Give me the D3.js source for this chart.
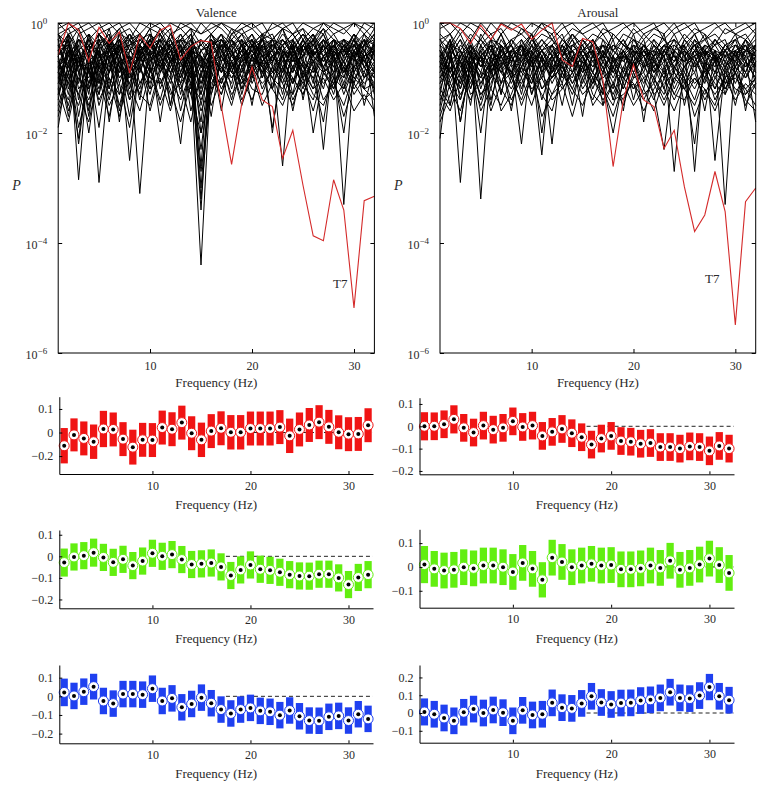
<!DOCTYPE html>
<html>
<head>
<meta charset="utf-8">
<script src="https://cdn.jsdelivr.net/npm/d3@7"></script>
<style>
  body { margin: 0; background: #fff; }
  svg { display: block; }
  text { font-family: 'Liberation Serif', 'Times New Roman', serif; fill: #2a2a2a; }
</style>
</head>
<body>
<svg id="chart" width="764" height="790"></svg>
<script>
// frequency bins (Hz)
var freqs = [1,2,3,4,5,6,7,8,9,10,11,12,13,14,15,16,17,18,19,20,21,22,23,24,25,26,27,28,29,30,31,32];

// log10(P) per channel, valence
var valenceLogP = [
  [-0.9,-0.3,-1.1,-0.2,-0.6,-0.1,-0.8,-0.4,-0.2,-0.7,-0.3,-0.1,-0.9,-0.5,-1.2,-0.4,-0.2,-0.6,-0.3,-0.8,-0.2,-0.5,-0.1,-0.7,-0.4,-0.2,-0.9,-0.3,-0.6,-0.2,-0.5,-0.8],
  [-1.9,-0.7,-0.4,-1.3,-0.2,-0.5,-0.3,-1.0,-0.6,-0.2,-0.4,-0.8,-0.3,-0.1,-1.5,-0.6,-0.9,-0.3,-0.5,-0.2,-0.7,-0.4,-1.0,-0.3,-0.1,-0.6,-0.3,-0.8,-0.4,-0.3,-0.7,-0.4],
  [-0.5,-0.2,-2.85,-0.6,-0.3,-0.9,-0.2,-0.5,-0.4,-0.1,-0.9,-0.3,-0.6,-0.2,-0.8,-0.3,-0.5,-0.1,-0.4,-0.9,-0.3,-0.2,-0.6,-1.1,-0.4,-0.2,-0.5,-0.3,-1.0,-0.4,-0.2,-0.6],
  [-1.2,-0.4,-0.7,-0.3,-2.9,-0.8,-0.4,-0.2,-0.6,-0.3,-0.2,-0.7,-1.1,-0.4,-0.3,-0.5,-0.2,-0.8,-0.6,-0.4,-0.2,-1.2,-0.5,-0.3,-0.7,-0.9,-0.4,-0.2,-0.5,-0.6,-0.3,-1.7],
  [-0.3,-0.1,-0.5,-0.9,-0.4,-0.2,-1.3,-0.6,-3.1,-0.7,-0.3,-0.4,-0.2,-0.6,-1.0,-0.2,-0.4,-0.3,-0.8,-0.5,-0.9,-0.3,-0.4,-0.2,-0.5,-0.3,-0.1,-0.6,-0.3,-0.9,-0.4,-0.2],
  [-0.7,-1.1,-0.3,-0.5,-0.2,-0.6,-0.4,-0.9,-0.3,-0.5,-0.7,-0.2,-0.4,-0.9,-4.4,-0.8,-0.3,-0.5,-0.2,-0.4,-0.6,-0.3,-0.8,-0.5,-0.2,-0.4,-0.7,-0.3,-0.5,-0.2,-0.8,-0.5],
  [-0.4,-0.9,-0.2,-0.6,-1.0,-0.3,-0.5,-0.2,-0.4,-0.8,-0.2,-0.5,-0.3,-0.6,-3.4,-0.5,-1.1,-0.4,-0.2,-0.6,-0.3,-0.5,-0.2,-0.4,-0.9,-0.6,-0.3,-0.5,-3.3,-0.7,-0.3,-0.4],
  [-1.0,-0.5,-0.8,-0.2,-0.4,-0.7,-0.2,-0.3,-0.6,-0.2,-0.5,-0.3,-0.7,-0.4,-3.0,-0.6,-0.4,-0.9,-0.5,-0.3,-0.8,-0.6,-0.4,-0.7,-0.3,-0.5,-0.2,-0.7,-0.4,-0.6,-0.9,-0.3],
  [-0.6,-0.3,-1.4,-0.5,-0.8,-0.4,-0.9,-0.3,-0.2,-0.6,-0.4,-0.9,-2.2,-0.5,-2.6,-0.4,-0.3,-0.6,-0.9,-0.4,-0.5,-0.7,-2.6,-0.4,-0.6,-0.3,-0.8,-0.5,-0.3,-0.4,-0.6,-1.2],
  [-0.2,-0.6,-0.3,-0.8,-0.5,-1.2,-0.3,-0.7,-0.5,-0.3,-0.6,-0.2,-0.5,-0.3,-0.6,-1.7,-0.5,-0.3,-0.6,-0.8,-0.4,-2.0,-0.5,-0.6,-0.3,-0.8,-0.4,-0.6,-0.9,-0.5,-0.3,-0.7],
  [-0.8,-0.2,-0.6,-1.6,-0.3,-0.4,-1.8,-0.5,-0.7,-0.4,-0.3,-0.6,-0.4,-0.8,-0.5,-0.3,-0.7,-0.2,-0.4,-0.3,-0.6,-0.5,-0.9,-0.3,-1.4,-0.5,-2.3,-0.4,-0.7,-0.3,-0.5,-0.9],
  [-0.4,-0.8,-0.5,-0.3,-0.7,-0.3,-0.6,-1.4,-0.4,-0.9,-0.5,-0.3,-0.8,-0.6,-0.4,-0.2,-0.6,-0.4,-1.3,-0.6,-0.3,-0.8,-0.6,-0.9,-0.5,-0.4,-0.6,-1.2,-0.5,-0.8,-0.4,-0.3],
  [-1.5,-0.9,-2.1,-0.7,-1.2,-0.5,-0.3,-0.6,-0.9,-0.4,-0.2,-0.5,-0.9,-0.3,-0.7,-0.5,-0.2,-0.4,-0.7,-0.3,-1.0,-0.4,-0.3,-0.5,-0.8,-0.3,-0.5,-0.3,-0.4,-1.1,-0.6,-0.4],
  [-0.6,-1.3,-0.4,-0.2,-0.9,-0.6,-0.4,-0.7,-0.3,-0.2,-1.2,-0.7,-0.5,-1.0,-0.3,-0.7,-0.8,-1.1,-0.3,-0.5,-0.3,-0.6,-0.4,-0.2,-0.5,-1.1,-0.3,-0.5,-0.7,-0.3,-1.0,-0.5],
  [-0.3,-0.5,-0.9,-0.5,-0.2,-0.4,-0.6,-0.3,-0.8,-0.5,-0.3,-1.5,-0.4,-0.2,-0.5,-0.4,-0.6,-0.8,-0.4,-0.2,-0.5,-0.3,-0.7,-0.4,-0.2,-0.6,-0.4,-0.9,-0.3,-0.5,-0.3,-0.6],
  [-1.1,-0.6,-0.3,-0.4,-0.6,-0.9,-0.5,-0.4,-1.1,-0.7,-0.5,-0.4,-0.3,-0.7,-1.8,-0.3,-0.5,-0.7,-0.5,-1.0,-0.4,-0.3,-0.5,-0.8,-0.6,-0.2,-0.6,-0.4,-0.6,-0.4,-0.7,-1.0],
  [-0.5,-0.4,-1.7,-0.7,-0.5,-0.3,-1.0,-0.8,-0.4,-0.6,-0.8,-0.5,-0.6,-0.4,-0.9,-0.6,-0.4,-0.5,-1.0,-0.4,-0.7,-0.5,-0.3,-0.6,-0.4,-0.7,-0.5,-0.3,-0.9,-0.6,-0.4,-0.5],
  [-0.9,-0.2,-0.5,-1.1,-0.7,-1.4,-0.6,-0.2,-0.5,-1.2,-0.4,-0.6,-0.2,-0.5,-0.6,-0.9,-0.3,-0.6,-0.4,-0.7,-0.5,-0.4,-0.6,-0.5,-1.0,-0.4,-0.2,-0.6,-0.5,-0.7,-0.2,-0.4],
  [-0.2,-0.7,-0.4,-0.6,-1.3,-0.4,-0.2,-0.9,-0.6,-0.4,-0.6,-0.9,-0.5,-0.3,-1.1,-0.5,-0.9,-0.3,-0.6,-0.5,-0.8,-0.6,-0.5,-1.3,-0.4,-0.6,-0.8,-0.4,-0.3,-0.6,-0.5,-0.2],
  [-1.3,-0.5,-0.6,-0.4,-0.3,-0.7,-0.9,-0.5,-0.7,-0.3,-0.8,-0.4,-1.0,-0.5,-0.4,-0.6,-0.3,-0.5,-0.8,-0.3,-0.6,-0.9,-0.4,-0.3,-0.6,-0.5,-0.3,-0.7,-0.5,-0.4,-0.8,-0.6],
  [-0.7,-1.0,-0.8,-0.3,-0.6,-0.5,-0.3,-1.2,-0.4,-0.6,-0.3,-0.7,-0.4,-0.6,-0.8,-0.4,-0.7,-1.4,-0.6,-0.4,-0.9,-0.7,-0.3,-0.5,-0.8,-1.0,-0.6,-0.4,-0.6,-0.3,-0.6,-0.4],
  [-0.4,-0.3,-1.2,-0.9,-0.4,-0.2,-0.7,-0.6,-1.4,-0.5,-0.9,-0.5,-0.6,-1.2,-0.5,-0.4,-0.3,-0.7,-0.5,-0.6,-0.4,-0.6,-0.8,-0.6,-0.3,-0.7,-0.4,-0.6,-1.2,-0.5,-0.7,-0.9],
  [-0.8,-0.6,-0.7,-1.0,-0.5,-0.8,-0.4,-0.3,-0.5,-0.4,-0.7,-1.0,-0.3,-0.4,-2.0,-0.7,-0.6,-0.4,-0.3,-0.9,-0.7,-0.5,-0.6,-0.4,-0.5,-0.3,-0.9,-0.7,-0.4,-0.6,-0.4,-0.7],
  [-0.5,-0.8,-0.3,-0.5,-0.8,-0.6,-0.5,-0.4,-0.3,-0.5,-0.6,-0.4,-0.7,-0.5,-0.6,-1.2,-0.5,-0.8,-0.6,-0.4,-0.3,-0.4,-0.5,-0.7,-0.6,-0.4,-0.6,-0.5,-0.8,-0.4,-0.6,-0.5],
  [-1.0,-1.4,-0.6,-0.9,-1.1,-0.7,-1.5,-0.8,-0.6,-1.0,-0.7,-0.5,-1.1,-0.8,-1.3,-0.6,-0.8,-1.0,-0.7,-0.6,-1.2,-0.8,-1.0,-1.3,-0.9,-1.2,-1.0,-1.4,-1.1,-1.6,-1.3,-1.6],
  [-0.6,-1.6,-1.0,-1.4,-0.8,-1.1,-0.7,-1.0,-0.8,-1.3,-0.6,-0.9,-0.7,-1.1,-0.8,-1.0,-1.3,-0.7,-1.1,-0.8,-0.6,-1.0,-1.2,-0.8,-1.1,-0.7,-0.9,-1.1,-0.8,-1.0,-1.2,-1.1],
  [-0.1,0,-0.2,-0.1,0,-0.3,-0.1,0,-0.2,0,-0.1,-0.3,0,-0.1,-0.2,0,-0.1,-0.3,-0.1,0,-0.2,-0.1,0,-0.2,-0.1,-0.3,0,-0.1,-0.2,0,-0.1,-0.3],
  [-0.2,-0.1,0,-0.3,-0.1,0,-0.2,-0.1,-0.4,-0.1,0,-0.2,-0.1,-0.3,0,-0.2,0,-0.1,-0.2,-0.1,0,-0.3,-0.1,0,-0.3,-0.1,-0.2,0,-0.1,-0.3,0,-0.1],
  [-1.4,-0.5,-2.2,-0.8,-1.9,-0.6,-1.6,-0.7,-1.2,-0.5,-1.8,-0.6,-1.0,-0.4,-1.3,-0.6,-1.6,-0.5,-0.9,-0.4,-1.0,-0.6,-1.3,-0.5,-0.8,-1.2,-0.6,-0.9,-2.0,-0.6,-1.0,-0.7],
  [-0.8,-1.7,-0.6,-1.7,-0.5,-1.2,-0.4,-2.5,-0.6,-1.1,-0.5,-1.5,-0.7,-1.3,-0.6,-1.0,-0.4,-1.2,-0.6,-1.5,-0.5,-0.9,-0.6,-1.6,-0.7,-1.0,-1.8,-0.6,-1.1,-0.5,-1.5,-0.8],
  [-1.6,-0.9,-1.3,-0.6,-1.5,-0.9,-0.5,-1.3,-0.7,-1.6,-0.9,-0.6,-1.6,-0.8,-1.1,-0.7,-1.2,-0.8,-1.5,-0.9,-0.7,-1.9,-0.8,-1.1,-0.6,-2.0,-0.9,-0.7,-1.3,-0.8,-0.6,-1.3],
  [-0.3,-1.2,-0.5,-1.1,-0.4,-1.8,-0.6,-0.9,-0.4,-0.8,-1.4,-0.7,-0.4,-1.6,-0.9,-0.5,-0.9,-0.6,-0.4,-1.1,-0.7,-0.5,-1.1,-0.6,-1.2,-0.5,-0.8,-1.3,-0.6,-0.9,-0.6,-0.5],
  [-1.1,-0.4,-0.8,-2.0,-0.7,-0.4,-1.1,-0.6,-0.9,-0.3,-0.6,-1.1,-0.5,-0.9,-2.3,-0.8,-0.6,-1.0,-0.7,-0.5,-0.8,-1.2,-0.5,-0.8,-0.4,-0.7,-1.2,-0.5,-0.8,-1.1,-0.5,-0.9],
  [-0.5,-0.2,-0.9,-0.4,-1.1,-0.3,-0.7,-1.7,-0.5,-0.3,-0.8,-0.4,-1.3,-0.5,-0.7,-0.3,-0.5,-0.9,-0.4,-0.7,-0.3,-0.7,-0.4,-0.9,-0.3,-0.6,-0.4,-1.0,-0.4,-0.6,-1.2,-0.4],
  [-0.2,-0.4,-0.1,-0.5,-0.2,-0.4,-0.1,-0.5,-0.2,-0.4,-0.1,-0.5,-0.3,-0.1,-0.4,-0.2,-0.5,-0.2,-0.1,-0.4,-0.2,-0.3,-0.1,-0.5,-0.2,-0.4,-0.1,-0.3,-0.5,-0.2,-0.4,-0.1],
  [0,-0.2,-0.1,0,-0.2,-0.1,0,-0.3,0,-0.1,-0.2,0,-0.1,0,-0.2,-0.1,0,-0.2,0,-0.1,-0.3,0,-0.1,-0.2,0,-0.1,0,-0.2,-0.1,0,-0.2,0],
  [-1.3,-0.8,-1.0,-1.2,-0.6,-1.0,-1.3,-0.9,-0.6,-1.0,-1.1,-0.8,-1.2,-0.7,-3.2,-0.9,-1.1,-0.7,-1.0,-0.8,-1.1,-0.9,-0.7,-1.0,-1.3,-0.8,-1.1,-0.9,-0.7,-1.2,-0.9,-1.2],
  [-0.9,-1.5,-0.7,-0.9,-1.3,-0.5,-0.8,-1.1,-0.5,-0.7,-0.5,-0.8,-0.5,-1.1,-2.7,-1.3,-0.7,-0.5,-1.2,-0.6,-0.9,-0.6,-0.9,-0.4,-1.0,-0.7,-0.5,-0.8,-1.0,-0.5,-0.8,-1.0],
  [-1.2,-1.8,-0.9,-1.5,-1.0,-1.7,-0.8,-1.4,-1.1,-0.8,-1.5,-1.0,-1.4,-0.9,-1.6,-1.1,-0.8,-1.3,-1.0,-1.4,-0.9,-1.2,-1.5,-1.0,-1.3,-0.8,-1.4,-1.1,-1.5,-0.9,-1.2,-1.4],
  [-0.7,-1.1,-1.5,-0.8,-1.4,-1.0,-1.7,-0.9,-1.3,-1.5,-0.8,-1.2,-1.8,-1.1,-1.4,-0.9,-1.3,-0.7,-1.2,-0.9,-1.5,-1.1,-0.8,-1.4,-1.0,-1.6,-0.9,-1.2,-0.8,-1.3,-1.0,-0.8],
  [-1.7,-1.0,-1.3,-1.8,-0.9,-1.5,-1.1,-1.9,-0.8,-1.2,-1.0,-1.6,-0.9,-1.3,-2.0,-1.2,-1.0,-1.5,-0.8,-1.2,-1.3,-0.8,-1.1,-1.5,-0.9,-1.3,-1.5,-1.0,-1.7,-1.1,-1.4,-1.2],
  [-0.4,-0.9,-0.6,-1.2,-0.7,-0.5,-1.0,-0.7,-1.3,-0.6,-1.1,-0.7,-0.5,-1.0,-0.7,-1.3,-0.6,-0.9,-1.1,-0.6,-0.8,-1.0,-0.6,-1.1,-0.7,-0.9,-0.6,-1.1,-0.7,-1.0,-0.8,-1.1],
  [-0.6,-0.3,-0.8,-0.4,-0.6,-0.9,-0.3,-0.7,-0.5,-0.9,-0.4,-0.7,-0.4,-0.8,-0.5,-0.8,-0.4,-0.7,-0.5,-0.9,-0.4,-0.7,-0.3,-0.6,-0.9,-0.5,-0.7,-0.4,-0.9,-0.5,-0.7,-0.4],
  [-1.0,-0.7,-1.9,-1.1,-0.8,-1.3,-0.7,-1.1,-1.6,-0.9,-0.7,-1.3,-1.1,-1.8,-0.9,-1.5,-1.0,-0.8,-1.4,-1.0,-0.7,-1.0,-1.4,-0.8,-1.1,-1.4,-0.8,-1.0,-1.2,-0.8,-1.1,-0.9]
];
var valenceT7 = [-0.58,0,-0.13,-0.7,-0.08,-0.37,-0.16,-0.91,-0.22,-0.46,-0.13,-0.04,-0.67,-0.43,-0.32,-0.35,-1.52,-2.57,-1.46,-0.8,-1.4,-1.52,-2.46,-1.95,-2.95,-3.87,-3.96,-2.85,-3.4,-5.18,-3.23,-3.15];

// log10(P) per channel, arousal
var arousalLogP = [
  [-2.1,-0.6,-0.3,-0.9,-0.2,-0.5,-0.8,-0.3,-0.6,-0.2,-0.9,-0.4,-0.2,-0.7,-0.3,-0.5,-0.9,-0.4,-0.6,-0.2,-0.8,-0.3,-0.5,-0.2,-0.6,-0.4,-0.8,-0.3,-0.5,-0.2,-0.7,-0.4],
  [-0.8,-0.3,-2.9,-0.5,-0.7,-0.3,-0.4,-1.0,-0.3,-0.6,-0.4,-0.2,-0.6,-0.3,-0.8,-0.4,-0.2,-0.5,-0.3,-0.7,-0.4,-0.6,-0.2,-0.9,-0.3,-0.5,-0.2,-0.7,-0.4,-0.6,-0.3,-0.8],
  [-0.5,-1.1,-0.6,-0.3,-3.2,-0.7,-0.5,-0.4,-0.8,-0.3,-0.6,-0.9,-0.4,-0.2,-0.5,-0.8,-0.4,-0.6,-0.9,-0.3,-0.5,-0.7,-0.4,-0.3,-0.8,-0.5,-0.3,-0.6,-0.8,-0.4,-0.5,-0.3],
  [-1.3,-0.4,-0.8,-0.5,-0.3,-0.6,-0.2,-0.7,-2.2,-0.5,-0.3,-0.6,-0.3,-0.5,-0.9,-0.3,-0.6,-0.2,-0.4,-0.6,-0.3,-0.9,-0.5,-0.7,-0.4,-0.2,-0.6,-0.4,-0.3,-0.8,-0.5,-0.6],
  [-0.3,-0.7,-0.5,-1.2,-0.6,-0.4,-0.9,-0.5,-0.3,-0.7,-2.4,-0.5,-0.8,-0.4,-0.3,-0.6,-0.5,-0.8,-0.4,-0.5,-0.9,-0.4,-0.6,-0.3,-0.5,-0.7,-0.4,-0.5,-3.3,-0.6,-0.3,-0.5],
  [-1.0,-0.5,-1.4,-0.6,-0.9,-0.3,-0.6,-0.4,-0.7,-0.4,-0.6,-2.2,-0.5,-0.8,-0.4,-0.9,-0.3,-0.7,-0.5,-0.3,-0.6,-0.5,-0.3,-0.6,-0.9,-0.3,-0.5,-0.8,-0.4,-0.6,-0.4,-0.9],
  [-0.6,-0.9,-0.4,-0.6,-1.4,-0.8,-0.3,-0.6,-0.4,-0.9,-0.5,-0.7,-0.3,-0.5,-0.7,-0.4,-1.1,-2.0,-1.0,-0.6,-0.4,-0.8,-0.6,-2.7,-0.6,-0.4,-0.7,-0.5,-0.6,-0.3,-0.8,-0.5],
  [-0.4,-0.2,-0.7,-1.5,-0.4,-0.9,-0.5,-0.3,-0.5,-0.2,-0.7,-0.4,-0.9,-0.6,-0.5,-0.3,-0.7,-0.9,-0.6,-0.8,-0.5,-0.3,-0.7,-0.5,-0.4,-2.7,-0.5,-0.3,-0.6,-0.5,-0.9,-0.4],
  [-1.6,-0.8,-1.1,-0.4,-0.6,-1.2,-0.4,-0.8,-0.6,-0.3,-0.5,-0.8,-0.6,-0.3,-0.6,-0.5,-1.3,-0.6,-0.3,-0.6,-0.8,-0.6,-0.4,-0.8,-0.6,-0.9,-0.4,-2.5,-0.8,-0.5,-0.6,-1.8],
  [-0.7,-1.5,-0.5,-0.8,-0.5,-0.3,-1.1,-0.6,-1.3,-0.5,-0.8,-0.5,-0.4,-0.9,-0.3,-0.6,-0.4,-0.5,-0.7,-0.4,-0.6,-1.0,-0.5,-0.4,-0.6,-0.4,-0.9,-0.6,-0.5,-0.8,-0.3,-0.6],
  [-0.9,-0.4,-0.9,-0.3,-0.8,-0.6,-0.4,-0.9,-0.5,-0.8,-0.4,-0.6,-1.1,-0.4,-0.6,-1.1,-0.5,-1.4,-0.8,-0.5,-0.7,-0.4,-0.8,-0.6,-1.0,-0.5,-0.6,-0.4,-0.7,-0.4,-0.6,-0.8],
  [-0.4,-0.6,-1.8,-0.7,-1.0,-0.5,-0.7,-0.4,-0.9,-0.6,-0.3,-0.5,-0.7,-0.5,-0.4,-0.7,-0.6,-0.4,-0.5,-0.9,-0.4,-0.6,-0.5,-0.7,-0.3,-0.6,-0.5,-0.7,-0.5,-0.9,-0.6,-0.4],
  [-1.2,-0.7,-0.5,-1.0,-0.6,-1.5,-0.5,-0.7,-0.4,-0.6,-1.0,-0.6,-0.5,-0.7,-0.8,-0.5,-0.8,-0.6,-1.1,-0.4,-0.8,-0.7,-1.0,-0.5,-0.7,-0.6,-0.4,-0.6,-0.9,-0.5,-1.0,-0.6],
  [-0.6,-1.2,-0.8,-0.5,-0.8,-0.4,-1.3,-0.5,-0.7,-1.1,-0.6,-0.4,-0.8,-1.0,-0.5,-0.8,-0.6,-1.0,-0.6,-0.7,-1.2,-0.5,-0.6,-1.1,-0.5,-0.8,-0.6,-1.0,-0.6,-0.7,-0.5,-1.1],
  [-0.8,-0.5,-1.2,-0.7,-0.5,-0.8,-0.6,-1.0,-0.6,-0.8,-0.5,-0.9,-0.6,-0.5,-1.0,-0.6,-0.9,-0.5,-0.7,-0.5,-0.6,-0.9,-0.7,-0.6,-0.8,-0.6,-1.1,-0.5,-0.8,-0.6,-0.8,-0.6],
  [-1.4,-1.0,-0.7,-1.3,-1.1,-0.7,-0.9,-1.2,-0.8,-1.0,-0.7,-1.0,-0.8,-1.2,-0.7,-1.3,-1.5,-1.1,-1.4,-1.0,-0.9,-1.3,-1.1,-0.9,-1.2,-1.0,-1.3,-0.9,-1.1,-1.0,-1.2,-1.5],
  [-0.3,-0.2,-0.5,-0.2,-0.4,-0.2,-0.5,-0.3,-0.2,-0.4,-0.2,-0.3,-0.5,-0.2,-0.4,-0.2,-0.3,-0.5,-0.2,-0.3,-0.4,-0.2,-0.3,-0.5,-0.2,-0.4,-0.3,-0.2,-0.4,-0.3,-0.5,-0.2],
  [-0.1,0,-0.2,0,-0.1,-0.3,0,-0.1,-0.2,0,-0.1,-0.2,0,-0.3,-0.1,0,-0.2,-0.1,0,-0.2,-0.1,0,-0.3,-0.1,0,-0.2,-0.1,0,-0.2,-0.1,0,-0.2],
  [-0.2,-0.4,-0.1,-0.3,0,-0.2,-0.1,-0.4,-0.1,-0.3,0,-0.1,-0.3,-0.1,-0.2,-0.4,-0.1,-0.2,-0.4,-0.1,-0.3,-0.1,-0.2,0,-0.3,-0.1,-0.2,-0.4,-0.1,-0.2,-0.3,-0.1],
  [-0.9,-0.6,-0.3,-0.6,-0.9,-1.0,-0.4,-0.6,-1.0,-0.4,-0.7,-1.0,-0.6,-0.4,-0.6,-1.0,-0.7,-0.3,-0.9,-0.6,-0.4,-0.7,-0.9,-0.4,-0.6,-0.3,-0.7,-0.9,-0.5,-0.4,-0.7,-1.0],
  [-0.5,-0.9,-0.6,-0.4,-0.7,-0.5,-0.8,-0.5,-0.6,-0.5,-0.9,-0.7,-0.4,-0.6,-0.9,-0.7,-1.0,-0.8,-0.5,-1.0,-0.5,-0.8,-0.4,-0.6,-0.7,-0.5,-0.8,-0.6,-1.0,-0.5,-0.4,-0.7],
  [-1.1,-0.5,-0.7,-0.9,-0.6,-0.4,-0.5,-0.7,-0.4,-0.7,-0.5,-0.4,-0.6,-0.8,-0.5,-0.4,-0.6,-0.7,-0.5,-0.8,-0.6,-0.5,-0.9,-0.7,-0.5,-0.7,-0.5,-0.6,-0.7,-0.9,-0.5,-0.6],
  [-0.7,-0.3,-1.0,-0.4,-1.2,-0.6,-0.9,-0.7,-0.4,-1.3,-0.8,-0.6,-1.0,-0.6,-1.2,-0.9,-1.2,-1.5,-0.9,-1.1,-1.4,-1.0,-1.3,-0.8,-1.0,-1.4,-0.8,-1.1,-1.3,-0.9,-1.2,-1.0],
  [-1.8,-1.3,-0.9,-0.6,-0.7,-0.9,-0.6,-1.1,-0.7,-0.5,-1.2,-0.9,-0.7,-0.9,-0.6,-0.9,-0.5,-0.8,-1.2,-0.7,-0.5,-0.9,-0.6,-1.2,-0.8,-0.5,-0.9,-0.7,-0.6,-1.1,-0.7,-0.9],
  [-1.5,-0.6,-1.8,-0.7,-2.0,-0.6,-1.3,-0.5,-1.2,-0.6,-2.0,-0.7,-1.5,-0.6,-1.7,-0.5,-1.5,-0.6,-1.6,-0.5,-1.8,-0.6,-1.2,-0.5,-1.5,-0.7,-1.6,-0.6,-1.3,-0.5,-1.6,-0.7],
  [-1.2,-1.5,-0.6,-1.2,-0.5,-1.4,-0.7,-1.6,-0.6,-1.3,-0.6,-1.1,-0.7,-1.5,-0.6,-1.2,-0.7,-1.1,-0.6,-1.4,-0.7,-1.3,-2.3,-0.8,-1.0,-2.2,-0.7,-1.2,-0.8,-1.5,-0.7,-1.0],
  [-0.7,-0.9,-1.2,-0.5,-1.1,-0.8,-1.6,-1.3,-0.8,-0.6,-1.4,-0.8,-1.2,-0.9,-0.6,-1.0,-1.3,-0.8,-1.2,-0.7,-1.0,-1.4,-0.8,-1.3,-0.9,-1.2,-0.8,-1.4,-1.0,-0.8,-1.3,-1.1],
  [-0.4,-1.0,-0.7,-1.1,-0.6,-0.9,-0.5,-1.0,-0.8,-0.4,-0.9,-0.6,-0.9,-0.5,-1.1,-0.6,-0.8,-1.2,-0.5,-0.9,-0.6,-1.1,-0.5,-0.9,-1.2,-0.6,-1.0,-0.5,-1.1,-0.7,-0.9,-0.5],
  [0,-0.2,0,-0.1,-0.3,0,-0.2,0,-0.1,-0.2,0,-0.3,-0.1,0,-0.2,-0.1,0,-0.3,-0.1,0,-0.2,-0.1,0,-0.2,-0.1,0,-0.3,-0.1,0,-0.2,-0.1,0],
  [-0.3,-0.5,-0.2,-0.6,-0.3,-0.5,-0.2,-0.6,-0.4,-0.2,-0.5,-0.3,-0.6,-0.2,-0.5,-0.3,-0.6,-0.2,-0.4,-0.5,-0.2,-0.4,-0.6,-0.3,-0.5,-0.2,-0.6,-0.3,-0.5,-0.3,-0.2,-0.5],
  [-1.0,-0.7,-1.0,-0.8,-1.3,-1.1,-0.6,-0.9,-1.1,-0.7,-1.2,-1.0,-0.6,-1.1,-0.8,-1.1,-0.6,-0.9,-1.0,-1.2,-0.8,-1.0,-1.4,-1.0,-0.8,-1.1,-0.9,-1.2,-0.7,-1.3,-0.9,-1.2],
  [-0.6,-0.4,-0.5,-0.8,-0.4,-0.7,-0.6,-0.5,-0.4,-0.7,-0.5,-0.7,-0.5,-0.4,-0.6,-0.5,-0.4,-0.7,-0.6,-0.4,-0.5,-0.6,-0.4,-0.5,-0.7,-0.4,-0.5,-0.7,-0.4,-0.6,-0.5,-0.4],
  [-1.3,-1.6,-1.0,-1.4,-0.9,-1.6,-1.1,-0.9,-1.5,-1.0,-1.3,-1.6,-0.9,-1.2,-1.5,-1.0,-1.4,-1.1,-1.5,-0.9,-1.3,-1.1,-1.5,-1.0,-1.2,-1.5,-1.0,-1.3,-1.0,-1.4,-1.1,-1.3],
  [-0.8,-1.2,-1.6,-0.9,-1.3,-1.0,-0.8,-1.4,-1.0,-1.5,-0.9,-1.3,-1.1,-1.7,-1.0,-1.4,-0.9,-1.3,-0.8,-1.2,-1.0,-0.8,-1.2,-1.6,-1.1,-0.9,-1.4,-1.0,-1.2,-0.9,-1.5,-1.1],
  [-1.7,-1.1,-1.4,-0.8,-1.6,-1.2,-1.5,-1.0,-1.4,-0.9,-1.7,-1.3,-0.9,-1.3,-0.8,-1.5,-1.2,-1.7,-1.1,-1.5,-1.2,-1.6,-1.0,-1.4,-1.0,-1.7,-1.2,-1.6,-1.1,-0.9,-1.4,-1.6],
  [-0.5,-0.8,-1.1,-0.6,-1.0,-0.7,-1.1,-0.6,-0.9,-1.1,-0.6,-1.0,-0.8,-1.1,-0.7,-0.9,-1.2,-0.7,-1.0,-0.7,-1.1,-0.7,-1.0,-0.8,-1.1,-0.7,-1.0,-0.7,-1.2,-0.8,-1.0,-0.7],
  [-0.6,-0.3,-0.7,-0.4,-0.8,-0.4,-0.7,-0.9,-0.4,-0.8,-0.5,-0.9,-0.4,-0.8,-0.5,-0.7,-0.4,-0.9,-0.5,-0.8,-0.4,-0.7,-0.5,-0.8,-0.4,-0.8,-0.5,-0.9,-0.5,-0.7,-0.4,-0.8],
  [-1.1,-0.8,-1.3,-1.0,-1.5,-0.9,-1.2,-1.5,-0.8,-1.2,-1.0,-1.4,-1.2,-0.9,-1.3,-1.1,-0.8,-1.4,-1.3,-1.1,-1.6,-1.2,-0.9,-1.3,-1.4,-1.0,-1.2,-1.5,-0.9,-1.2,-1.3,-1.0]
];
var arousalT7 = [0,0,-0.1,-0.37,-0.04,-0.3,-0.02,-0.13,-0.02,-0.3,-0.13,0,-0.67,-0.79,-0.28,-0.34,-1.04,-2.61,-1.4,-0.76,-1.4,-1.52,-2.28,-1.95,-2.98,-3.79,-3.49,-2.7,-3.43,-5.49,-3.25,-3.0];

var pExpLabels = ['0', '\u22122', '\u22124', '\u22126'];

// band correlations: mean and half-height of each bar
var redValenceMean = [-0.056,-0.010,-0.025,-0.039,0.015,0.013,-0.028,-0.062,-0.031,-0.032,0.021,0.014,0.042,-0.003,-0.031,0.006,0.018,0.001,0.001,0.017,0.017,0.017,0.023,-0.014,0.013,0.032,0.044,0.024,0.001,-0.007,-0.006,0.031];
var redValenceErr  = [0.075,0.07,0.072,0.073,0.077,0.072,0.072,0.074,0.072,0.072,0.072,0.072,0.072,0.072,0.073,0.072,0.072,0.073,0.073,0.072,0.072,0.072,0.072,0.073,0.072,0.072,0.072,0.072,0.072,0.072,0.072,0.072];
var redArousalMean = [0.0,0.0,0.009,0.031,-0.007,-0.028,0.003,-0.015,-0.007,0.022,-0.003,0.003,-0.043,-0.025,-0.012,-0.031,-0.049,-0.082,-0.055,-0.043,-0.066,-0.069,-0.078,-0.075,-0.093,-0.093,-0.1,-0.09,-0.093,-0.11,-0.088,-0.1];
var redArousalErr  = [0.063,0.062,0.062,0.063,0.062,0.062,0.062,0.062,0.062,0.062,0.062,0.062,0.062,0.062,0.062,0.062,0.062,0.062,0.062,0.062,0.062,0.062,0.062,0.062,0.062,0.062,0.062,0.062,0.062,0.064,0.062,0.062];
var greenValenceMean = [-0.029,-0.003,0.003,0.017,-0.005,-0.028,-0.014,-0.043,-0.022,0.014,0.0,0.008,-0.015,-0.038,-0.035,-0.031,-0.049,-0.089,-0.063,-0.04,-0.06,-0.065,-0.074,-0.085,-0.091,-0.092,-0.083,-0.083,-0.1,-0.131,-0.098,-0.085];
var greenValenceErr  = [0.065,0.063,0.063,0.065,0.063,0.063,0.063,0.063,0.063,0.063,0.063,0.063,0.063,0.063,0.063,0.063,0.063,0.063,0.063,0.063,0.063,0.063,0.063,0.063,0.063,0.063,0.063,0.063,0.063,0.063,0.063,0.063];
var greenArousalMean = [0.01,-0.008,-0.015,-0.012,-0.001,-0.006,0.006,0.006,-0.001,-0.021,0.017,-0.008,-0.054,0.039,0.021,-0.001,0.006,0.013,0.006,0.008,-0.01,-0.01,-0.006,0.006,-0.004,0.026,-0.012,-0.004,0.01,0.035,0.008,-0.025];
var greenArousalErr  = [0.078,0.075,0.075,0.075,0.075,0.075,0.075,0.075,0.075,0.075,0.075,0.075,0.074,0.075,0.075,0.075,0.075,0.075,0.075,0.075,0.075,0.075,0.075,0.075,0.075,0.075,0.075,0.075,0.075,0.075,0.075,0.075];
var blueValenceMean = [0.021,0.002,0.025,0.052,-0.025,-0.039,0.012,0.012,0.009,0.041,-0.025,-0.011,-0.059,-0.041,-0.007,-0.037,-0.071,-0.092,-0.071,-0.062,-0.078,-0.083,-0.101,-0.076,-0.107,-0.13,-0.131,-0.11,-0.105,-0.13,-0.096,-0.121];
var blueValenceErr  = [0.074,0.071,0.071,0.069,0.071,0.071,0.071,0.071,0.071,0.071,0.071,0.071,0.071,0.071,0.071,0.071,0.071,0.071,0.071,0.071,0.071,0.071,0.071,0.071,0.071,0.071,0.071,0.071,0.071,0.071,0.071,0.071];
var blueArousalMean = [0.006,-0.007,-0.028,-0.044,0.004,0.022,0.0,0.017,0.002,-0.044,0.015,-0.011,-0.007,0.057,0.03,0.026,0.054,0.094,0.059,0.048,0.056,0.057,0.07,0.074,0.085,0.117,0.085,0.081,0.098,0.146,0.094,0.072];
var blueArousalErr  = [0.076,0.075,0.075,0.075,0.075,0.075,0.075,0.075,0.075,0.075,0.075,0.075,0.075,0.075,0.075,0.075,0.075,0.075,0.075,0.075,0.075,0.075,0.075,0.075,0.075,0.075,0.075,0.075,0.075,0.074,0.075,0.075];

var svg = d3.select('#chart');

// ---- P-value panels (log scale) ----
function drawPPanel(x0, x1, title, lines, t7, t7Pos) {
  var top = 23, bottom = 353;
  var x = d3.scaleLinear().domain([1, 32]).range([x0, x1]);
  var y = d3.scaleLog().domain([1, 1e-6]).range([top, bottom]);
  var g = svg.append('g');

  var line = d3.line()
    .x(function(d, i) { return x(freqs[i]); })
    .y(function(d) { return y(Math.pow(10, d)); });

  g.selectAll('path.ch').data(lines).enter().append('path')
    .attr('class', 'ch')
    .attr('d', line)
    .attr('fill', 'none')
    .attr('stroke', '#000')
    .attr('stroke-width', 1);

  g.append('path').datum(t7)
    .attr('d', line)
    .attr('fill', 'none')
    .attr('stroke', '#d42a2a')
    .attr('stroke-width', 1.1);

  // frame
  g.append('rect')
    .attr('x', x0).attr('y', top)
    .attr('width', x1 - x0).attr('height', bottom - top)
    .attr('fill', 'none').attr('stroke', '#000').attr('stroke-width', 1);

  var xb = g.append('g').attr('transform', 'translate(0,' + bottom + ')')
    .call(d3.axisBottom(x).tickValues([10, 20, 30]).tickSizeInner(-4).tickSizeOuter(0).tickPadding(8));
  var xt = g.append('g').attr('transform', 'translate(0,' + top + ')')
    .call(d3.axisTop(x).tickValues([10, 20, 30]).tickSizeInner(-4).tickSizeOuter(0).tickFormat(''));
  var yl = g.append('g').attr('transform', 'translate(' + x0 + ',0)')
    .call(d3.axisLeft(y).tickValues([1, 1e-2, 1e-4, 1e-6]).tickSizeInner(-4).tickSizeOuter(0).tickPadding(11));
  var yr = g.append('g').attr('transform', 'translate(' + x1 + ',0)')
    .call(d3.axisRight(y).tickValues([1, 1e-2, 1e-4, 1e-6]).tickSizeInner(-4).tickSizeOuter(0).tickFormat(''));

  [xb, xt, yl, yr].forEach(function(a) {
    a.attr('font-family', null);
    a.select('.domain').remove();
    a.selectAll('.tick line').attr('stroke', '#000');
    a.selectAll('.tick text').attr('font-size', 12).attr('fill', '#2a2a2a');
  });

  // 10^k labels
  yl.selectAll('.tick text').each(function(d, i) {
    var t = d3.select(this).text(null).attr('dy', '0.45em');
    t.append('tspan').text('10');
    t.append('tspan').attr('dy', '-0.55em').attr('font-size', 9).text(pExpLabels[i]);
  });

  g.append('text')
    .attr('x', (x0 + x1) / 2).attr('y', 17)
    .attr('text-anchor', 'middle').attr('font-size', 13)
    .text(title);

  g.append('text')
    .attr('x', x0 - 46).attr('y', 190)
    .attr('font-size', 14).attr('font-style', 'italic')
    .text('P');

  g.append('text')
    .attr('x', t7Pos[0]).attr('y', t7Pos[1])
    .attr('font-size', 13)
    .text('T7');

  g.append('text')
    .attr('x', (x0 + x1) / 2).attr('y', bottom + 34)
    .attr('text-anchor', 'middle').attr('font-size', 13)
    .text('Frequency (Hz)');
}

drawPPanel(58.2, 374.4, 'Valence', valenceLogP, valenceT7, [333, 288]);
drawPPanel(440, 755.7, 'Arousal', arousalLogP, arousalT7, [705, 283]);

// ---- correlation panels ----
function drawBarPanel(cfg) {
  var x = d3.scaleLinear().domain([0.5, 32.5]).range([cfg.x0, cfg.x1]);
  var y = d3.scaleLinear().domain(cfg.yDomain).range([cfg.y1, cfg.y0]);
  var g = svg.append('g');

  g.append('line')
    .attr('x1', x(17.5)).attr('x2', x(32.5))
    .attr('y1', y(0)).attr('y2', y(0))
    .attr('stroke', '#222').attr('stroke-width', 1)
    .attr('stroke-dasharray', '4,3');

  g.selectAll('rect.bar').data(freqs).enter().append('rect')
    .attr('class', 'bar')
    .attr('x', function(f) { return x(f - 0.37); })
    .attr('width', function(f) { return x(f + 0.37) - x(f - 0.37); })
    .attr('y', function(f, i) { return y(cfg.mean[i] + cfg.err[i]); })
    .attr('height', function(f, i) { return y(cfg.mean[i] - cfg.err[i]) - y(cfg.mean[i] + cfg.err[i]); })
    .attr('fill', cfg.color);

  g.selectAll('circle.ring').data(freqs).enter().append('circle')
    .attr('class', 'ring')
    .attr('cx', function(f) { return x(f); })
    .attr('cy', function(f, i) { return y(cfg.mean[i]); })
    .attr('r', 5)
    .attr('fill', '#fff')
    .attr('stroke', cfg.color).attr('stroke-width', 1);

  g.selectAll('circle.dot').data(freqs).enter().append('circle')
    .attr('class', 'dot')
    .attr('cx', function(f) { return x(f); })
    .attr('cy', function(f, i) { return y(cfg.mean[i]); })
    .attr('r', 2)
    .attr('fill', '#000');

  var xa = g.append('g').attr('transform', 'translate(0,' + cfg.y1 + ')')
    .call(d3.axisBottom(x).tickValues([10, 20, 30]).tickSizeInner(-3).tickSizeOuter(0).tickPadding(7));
  var ya = g.append('g').attr('transform', 'translate(' + cfg.x0 + ',0)')
    .call(d3.axisLeft(y).tickValues(cfg.ticks).tickSizeInner(-3).tickSizeOuter(0).tickPadding(6)
      .tickFormat(function(d, i) { return cfg.labels[i]; }));

  [xa, ya].forEach(function(a) {
    a.attr('font-family', null);
    a.select('.domain').attr('stroke', '#000').attr('stroke-width', 1);
    a.selectAll('.tick line').attr('stroke', '#000');
    a.selectAll('.tick text').attr('font-size', 12).attr('fill', '#2a2a2a');
  });

  g.append('text')
    .attr('x', (cfg.x0 + cfg.x1) / 2).attr('y', cfg.y1 + 35)
    .attr('text-anchor', 'middle').attr('font-size', 13)
    .text('Frequency (Hz)');
}

var RED = '#f01414', GREEN = '#62ee10', BLUE = '#1f40f0';

drawBarPanel({x0: 59.3, x1: 373, y0: 396.7, y1: 474, yDomain: [-0.176, 0.152],
  ticks: [0.1, 0, -0.1], labels: ['0.1', '0', '\u22120.2'],
  mean: redValenceMean, err: redValenceErr, color: RED});
drawBarPanel({x0: 419.5, x1: 734, y0: 397.7, y1: 474.3, yDomain: [-0.215, 0.128],
  ticks: [0.1, 0, -0.1, -0.2], labels: ['0.1', '0', '\u22120.1', '\u22120.2'],
  mean: redArousalMean, err: redArousalErr, color: RED});
drawBarPanel({x0: 59.3, x1: 373, y0: 530, y1: 608.3, yDomain: [-0.241, 0.122],
  ticks: [0.1, 0, -0.1, -0.2], labels: ['0.1', '0', '\u22120.1', '\u22120.2'],
  mean: greenValenceMean, err: greenValenceErr, color: GREEN});
drawBarPanel({x0: 419.5, x1: 734, y0: 529.3, y1: 607.7, yDomain: [-0.171, 0.158],
  ticks: [0.1, 0, -0.1], labels: ['0.1', '0', '\u22120.1'],
  mean: greenArousalMean, err: greenArousalErr, color: GREEN});
drawBarPanel({x0: 59.3, x1: 373, y0: 665, y1: 743.3, yDomain: [-0.252, 0.168],
  ticks: [0.1, 0, -0.1, -0.2], labels: ['0.1', '0', '\u22120.1', '\u22120.2'],
  mean: blueValenceMean, err: blueValenceErr, color: BLUE});
drawBarPanel({x0: 419.5, x1: 734, y0: 665, y1: 742.7, yDomain: [-0.167, 0.27],
  ticks: [0.2, 0.1, 0, -0.1], labels: ['0.2', '0.1', '0', '\u22120.1'],
  mean: blueArousalMean, err: blueArousalErr, color: BLUE});
</script>
</body>
</html>
